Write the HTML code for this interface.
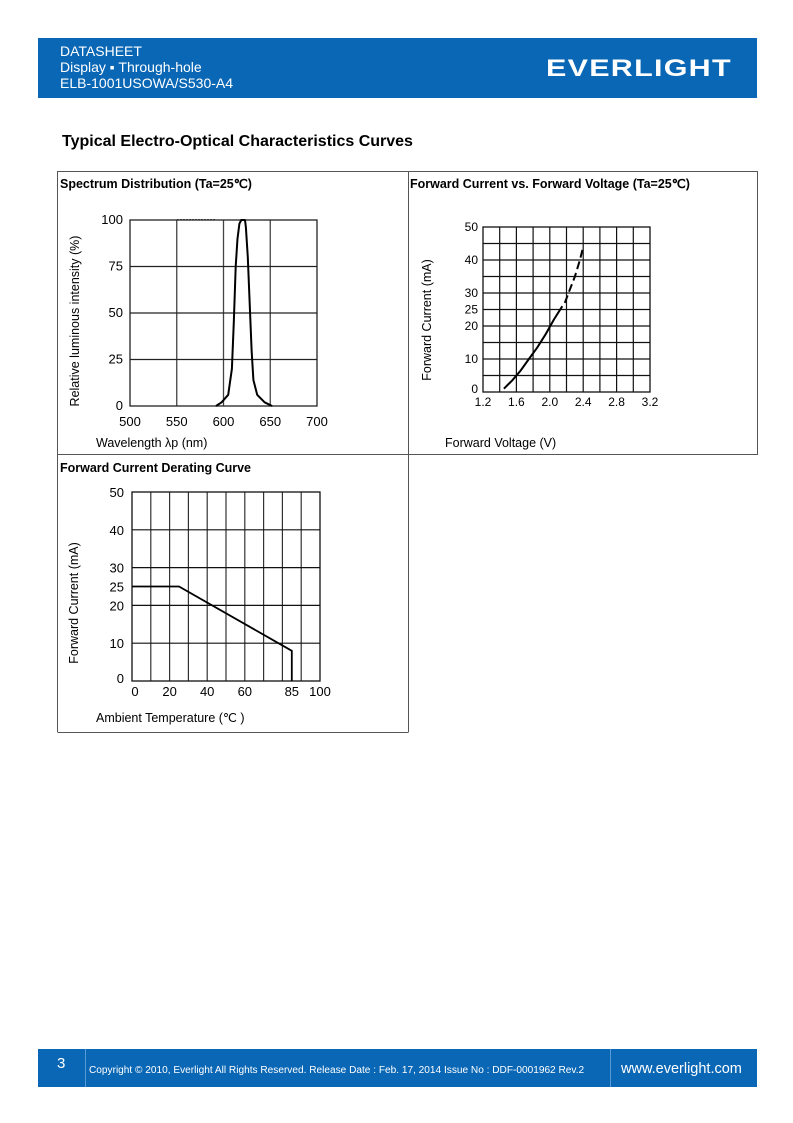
<!DOCTYPE html>
<html><head><meta charset="utf-8"><style>
body{margin:0;width:793px;height:1123px;background:#fff;position:relative;font-family:"Liberation Sans","Noto Sans CJK SC",sans-serif;overflow:hidden}
.hdr{position:absolute;left:38px;top:38px;width:719px;height:60px;background:#0a67b5}
.hdr .t{position:absolute;left:22px;top:5px;color:#fff;font-size:14px;line-height:16px}
.logo{position:absolute;left:508px;top:17px;color:#fff;font-size:24px;font-weight:bold;letter-spacing:1px;font-style:normal;transform:scaleX(1.27);transform-origin:left}
.ftr{position:absolute;left:38px;top:1049px;width:719px;height:38px;background:#0a67b5;color:#fff}
h2{position:absolute;left:62px;top:133px;margin:0;font-size:16px;font-weight:bold}
svg{position:absolute;left:0;top:0}
</style></head><body>
<div class="hdr">
<div class="t">DATASHEET<br>Display ▪ Through-hole<br>ELB-1001USOWA/S530-A4</div>
<div class="logo">EVERLIGHT</div>
</div>
<h2>Typical Electro-Optical Characteristics Curves</h2>
<div class="ftr">
<div style="position:absolute;left:19px;top:6px;font-size:15px">3</div>
<div style="position:absolute;left:47px;top:0;width:1px;height:38px;background:#5b9bd5"></div>
<div style="position:absolute;left:51px;top:16px;font-size:10px;transform:scaleX(1.01);transform-origin:left">Copyright © 2010, Everlight All Rights Reserved. Release Date : Feb. 17, 2014 Issue No : DDF-0001962 Rev.2</div>
<div style="position:absolute;left:572px;top:0;width:1px;height:38px;background:#5b9bd5"></div>
<div style="position:absolute;left:583px;top:12px;font-size:14.5px">www.everlight.com</div>
</div>
<svg id="s" width="793" height="1123" font-family="Liberation Sans, sans-serif">
<g stroke="#555" stroke-width="1" fill="none">
<line x1="57.5" y1="171.5" x2="757.5" y2="171.5"/>
<line x1="57.5" y1="454.5" x2="757.5" y2="454.5"/>
<line x1="57.5" y1="171" x2="57.5" y2="732"/>
<line x1="408.5" y1="171" x2="408.5" y2="732"/>
<line x1="757.5" y1="171" x2="757.5" y2="455"/>
<line x1="57.5" y1="732.5" x2="408.5" y2="732.5"/>
</g>
<g font-size="12.5" font-weight="bold">
<text x="60" y="188">Spectrum Distribution (Ta=25℃)</text>
<text x="410" y="188">Forward Current vs. Forward Voltage (Ta=25℃)</text>
<text x="60" y="472">Forward Current Derating Curve</text>
</g>
<line x1="177" y1="219.5" x2="215" y2="219.5" stroke="#666" stroke-dasharray="2,1"/>
<g id="c1"></g><g id="c2"></g><g id="c3"></g>
</svg>
<script>
const specX=[592,598,605,609,611,613,615,617,619,620,623,624,626,628,630,632,636,644,652];
const specY=[0,2,6,20,45,75,90,98,100,100,100,96,80,55,30,14,6,2,0];
const specXTicks=[500,550,600,650,700];
const specYTicks=[0,25,50,75,100];
const ivV=[1.45,1.55,1.65,1.75,1.85,1.95,2.05,2.15];
const ivI=[1,3.5,6.5,10,13.5,17.5,22,26];
const ivVd=[2.18,2.24,2.3,2.36,2.4];
const ivId=[27,31,35,40,44];
const ivXTicks=["1.2","1.6","2.0","2.4","2.8","3.2"];
const ivYTicks=[0,10,20,25,30,40,50];
const drT=[0,25,85,85];
const drI=[25,25,8,0];
const drXTicks=[0,20,40,60,85,100];
const drYTicks=[0,10,20,25,30,40,50];
const NS="http://www.w3.org/2000/svg";
function mk(p,tag,a,txt){const e=document.createElementNS(NS,tag);for(const k in a)e.setAttribute(k,a[k]);if(txt!==undefined)e.textContent=txt;p.appendChild(e);return e;}
function lin(d0,d1,r0,r1){return v=>r0+(v-d0)/(d1-d0)*(r1-r0);}
function path(xs,ys,sx,sy){return xs.map((v,i)=>(i?'L':'M')+sx(v).toFixed(1)+' '+sy(ys[i]).toFixed(1)).join(' ');}
// chart 1
(function(){const g=document.getElementById('c1');const sx=lin(500,700,130,317),sy=lin(0,100,406,220);
for(const t of [550,600,650]){const l=mk(g,'line',{x1:sx(t),x2:sx(t),y1:220,y2:406,stroke:'#444','stroke-width':1.3});}
for(const t of [25,50,75]){const l=mk(g,'line',{x1:130,x2:317,y1:sy(t),y2:sy(t),stroke:'#222','stroke-width':1.3});}
mk(g,'rect',{x:130,y:220,width:187,height:186,fill:'none',stroke:'#222','stroke-width':1.3});
specXTicks.forEach(t=>{const e=mk(g,'text',{x:sx(t),y:426,'font-size':13,'text-anchor':'middle'},t);});
specYTicks.forEach(t=>{const e=mk(g,'text',{x:123,y:sy(t)+4,'font-size':13,'text-anchor':'end'},t);});
const p=mk(g,'path',{d:path(specX,specY,sx,sy),fill:'none',stroke:'#000','stroke-width':2,'stroke-linejoin':'round'});
let e=mk(g,'text',{x:96,y:447,'font-size':12.5},'Wavelength λp (nm)');
e=mk(g,'text',{x:0,y:0,'font-size':12.5,'text-anchor':'middle',transform:'translate(79,321) rotate(-90)'},'Relative luminous intensity (%)');
})();
// chart 2
(function(){const g=document.getElementById('c2');const sx=lin(1.2,3.2,483,650),sy=lin(0,50,392,227);
for(let i=1;i<10;i++){const v=1.2+i*0.2;const l=mk(g,'line',{x1:sx(v),x2:sx(v),y1:227,y2:392,stroke:'#111','stroke-width':1.2});}
for(let i=1;i<10;i++){const l=mk(g,'line',{x1:483,x2:650,y1:sy(i*5),y2:sy(i*5),stroke:'#111','stroke-width':1.2});}
mk(g,'rect',{x:483,y:227,width:167,height:165,fill:'none',stroke:'#111','stroke-width':1.3});
ivXTicks.forEach(t=>{const e=mk(g,'text',{x:sx(+t),y:406,'font-size':12,'text-anchor':'middle'},t);});
ivYTicks.forEach(t=>{const e=mk(g,'text',{x:478,y:sy(t)+4-(t===0?3:0),'font-size':12,'text-anchor':'end'},t);});
let p=mk(g,'path',{d:path(ivV,ivI,sx,sy),fill:'none',stroke:'#000','stroke-width':2});
p=mk(g,'path',{d:path(ivVd,ivId,sx,sy),fill:'none',stroke:'#000','stroke-width':2,'stroke-dasharray':'8,4'});
let e=mk(g,'text',{x:445,y:447,'font-size':12.5},'Forward Voltage (V)');
e=mk(g,'text',{x:0,y:0,'font-size':12.5,'text-anchor':'middle',transform:'translate(431,320) rotate(-90)'},'Forward Current (mA)');
})();
// chart 3
(function(){const g=document.getElementById('c3');const sx=lin(0,100,132,320),sy=lin(0,50,681,492);
for(let i=1;i<10;i++){const l=mk(g,'line',{x1:sx(i*10),x2:sx(i*10),y1:492,y2:681,stroke:'#333','stroke-width':1.2});}
for(const t of [10,20,30,40]){const l=mk(g,'line',{x1:132,x2:320,y1:sy(t),y2:sy(t),stroke:'#111','stroke-width':1.2});}
mk(g,'rect',{x:132,y:492,width:188,height:189,fill:'none',stroke:'#111','stroke-width':1.3});
drXTicks.forEach(t=>{const e=mk(g,'text',{x:sx(t)+(t===0?3:0),y:696,'font-size':13,'text-anchor':'middle'},t);});
drYTicks.forEach(t=>{const e=mk(g,'text',{x:124,y:sy(t)+5-(t===0?3:0),'font-size':13,'text-anchor':'end'},t);});
const p=mk(g,'path',{d:path(drT,drI,sx,sy),fill:'none',stroke:'#000','stroke-width':1.8});
let e=mk(g,'text',{x:96,y:722,'font-size':12.5},'Ambient Temperature (℃ )');
e=mk(g,'text',{x:0,y:0,'font-size':12.5,'text-anchor':'middle',transform:'translate(78,603) rotate(-90)'},'Forward Current (mA)');
})();
</script>
</body></html>
